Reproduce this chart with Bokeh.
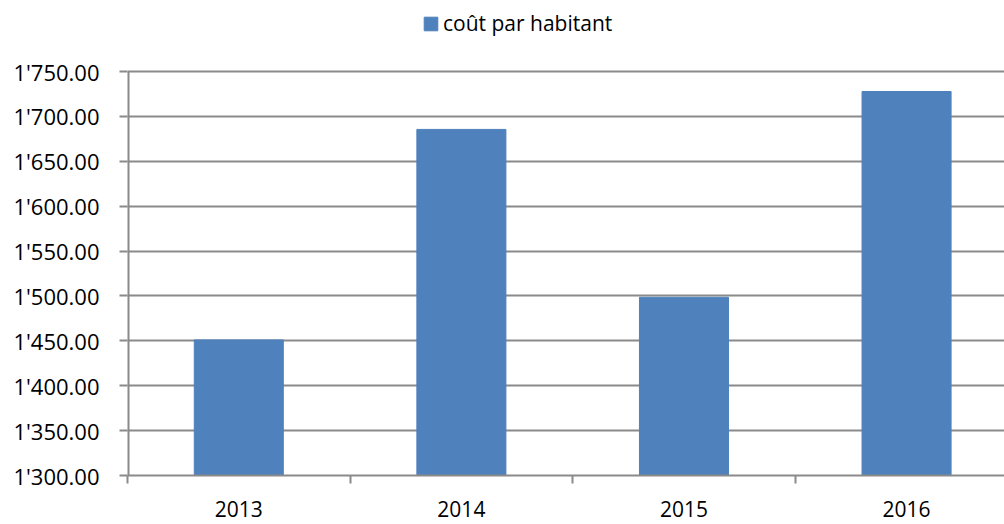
from bokeh.plotting import figure
from bokeh.models import (ColumnDataSource, Range1d, FixedTicker, Legend, LegendItem)
from bokeh.embed import file_html
from bokeh.resources import INLINE

# Data
years = ["2013", "2014", "2015", "2016"]
cost_per_inhabitant = [1451.0, 1685.5, 1498.5, 1727.7]
series_name = "coût par habitant"
y_ticks = [1300, 1350, 1400, 1450, 1500, 1550, 1600, 1650, 1700, 1750]

FONT = "Open Sans"
BAR = "#4F81BD"
GRID = "#8A8A8A"

# layout: frame spans the figure top so the legend can sit above the grid
FRAME_H = 475          # px from figure top to x axis
GRID_TOP = 71          # px where the top gridline sits
y_lo, y_hi = y_ticks[0], y_ticks[-1]
y_end = y_hi + GRID_TOP * (y_hi - y_lo) / (FRAME_H - GRID_TOP)

xs = [i + 0.5 for i in range(len(years))]
src = ColumnDataSource(dict(x=xs, top=cost_per_inhabitant, year=years))

p = figure(width=1004, height=524, output_backend="svg", toolbar_location=None,
           x_range=Range1d(0, 3.94), y_range=Range1d(y_lo, y_end),
           min_border_left=127, min_border_right=0, min_border_top=0,
           min_border_bottom=49)
p.outline_line_color = None
p.background_fill_color = "white"
p.border_fill_color = "white"

r = p.vbar(x="x", top="top", bottom=y_lo, width=0.4, source=src,
           fill_color=BAR, line_color=BAR, line_width=1)

# y axis line only over the gridded span
p.segment(x0=[0], y0=[y_lo], x1=[0], y1=[y_hi], line_color=GRID, line_width=4)

# Y axis
yax = p.yaxis[0]
yax.ticker = FixedTicker(ticks=y_ticks, minor_ticks=[])
yax.major_label_overrides = {v: f"{v:,.2f}".replace(",", "'") for v in y_ticks}
yax.major_label_text_font = FONT
yax.major_label_text_font_size = "22px"
yax.major_label_text_color = "black"
yax.major_tick_out = 8
yax.major_tick_in = 0
yax.major_tick_line_width = 2
yax.minor_tick_out = 0
yax.minor_tick_in = 0
yax.major_tick_line_color = GRID
yax.axis_line_color = None
yax.major_label_standoff = 20

# X axis: labels at centres, tick marks at category boundaries
xax = p.xaxis[0]
xax.ticker = FixedTicker(ticks=xs, minor_ticks=list(range(len(years) + 1)))
xax.major_label_overrides = {x: y for x, y in zip(xs, years)}
xax.major_label_text_font = FONT
xax.major_label_text_font_size = "21px"
xax.major_label_text_color = "black"
xax.major_tick_out = 8
xax.major_tick_in = 0
xax.major_tick_line_alpha = 0
xax.minor_tick_out = 8
xax.minor_tick_in = 0
xax.minor_tick_line_color = GRID
xax.minor_tick_line_width = 2
xax.axis_line_color = GRID
xax.axis_line_width = 2
xax.major_label_standoff = 17

p.xgrid.grid_line_color = None
p.ygrid.ticker = FixedTicker(ticks=y_ticks)
p.ygrid.grid_line_color = GRID
p.ygrid.grid_line_width = 2

legend = Legend(items=[LegendItem(label=series_name, renderers=[r])],
                location=(295, 438), orientation="horizontal",
                glyph_width=17, glyph_height=17, label_standoff=4,
                padding=0, margin=0, spacing=0,
                label_text_font=FONT, label_text_font_size="21px",
                label_text_color="black",
                border_line_color=None, background_fill_alpha=0)
p.add_layout(legend, "center")

open("out.html", "w").write(file_html(p, INLINE))
